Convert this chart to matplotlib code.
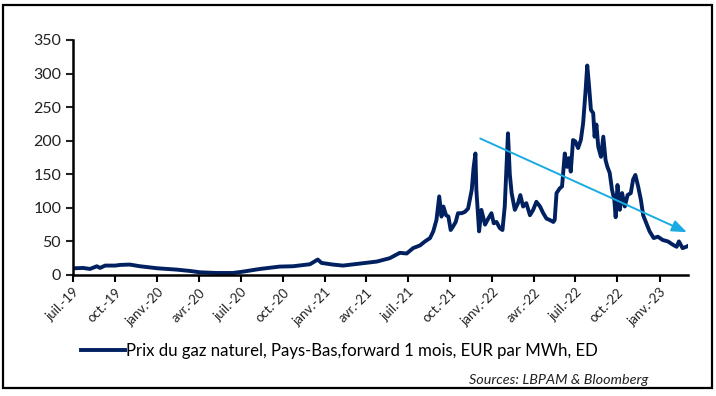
import matplotlib
matplotlib.use("Agg")
import matplotlib.pyplot as plt
import pandas as pd
from matplotlib.patches import Rectangle

plt.rcParams['font.family'] = ['Lato', 'DejaVu Sans']

# prix du gaz TTF, forward 1 mois (EUR/MWh)
dates = [
    "2019-07-01", "2019-07-05", "2019-07-23", "2019-08-07", "2019-08-22", "2019-08-29",
    "2019-09-09", "2019-10-01", "2019-10-12", "2019-11-02", "2019-11-24", "2020-01-01",
    "2020-02-12", "2020-03-12", "2020-04-03", "2020-05-09", "2020-06-14", "2020-07-06",
    "2020-08-12", "2020-09-24", "2020-10-23", "2020-11-29", "2020-12-16", "2020-12-24",
    "2021-01-18", "2021-02-09", "2021-03-18", "2021-04-24", "2021-05-22", "2021-06-13",
    "2021-06-28", "2021-07-12", "2021-07-27", "2021-08-07", "2021-08-18", "2021-08-25",
    "2021-09-01", "2021-09-07", "2021-09-12", "2021-09-16", "2021-09-22", "2021-09-27",
    "2021-10-02", "2021-10-07", "2021-10-13", "2021-10-18", "2021-10-26", "2021-11-02",
    "2021-11-09", "2021-11-17", "2021-11-21", "2021-11-25", "2021-11-27", "2021-12-03",
    "2021-12-08", "2021-12-16", "2021-12-23", "2021-12-30", "2022-01-04", "2022-01-10",
    "2022-01-17", "2022-01-23", "2022-01-28", "2022-02-04", "2022-02-08", "2022-02-12",
    "2022-02-19", "2022-02-26", "2022-03-03", "2022-03-09", "2022-03-16", "2022-03-24",
    "2022-03-31", "2022-04-07", "2022-04-15", "2022-04-22", "2022-04-29", "2022-05-06",
    "2022-05-14", "2022-05-17", "2022-05-21", "2022-05-28", "2022-06-02", "2022-06-08",
    "2022-06-13", "2022-06-17", "2022-06-21", "2022-06-26", "2022-07-01", "2022-07-07",
    "2022-07-13", "2022-07-18", "2022-07-23", "2022-07-27", "2022-07-31", "2022-08-04",
    "2022-08-09", "2022-08-12", "2022-08-16", "2022-08-20", "2022-08-26", "2022-08-31",
    "2022-09-05", "2022-09-09", "2022-09-14", "2022-09-19", "2022-09-24", "2022-09-27",
    "2022-10-01", "2022-10-06", "2022-10-11", "2022-10-17", "2022-10-23", "2022-10-30",
    "2022-11-04", "2022-11-09", "2022-11-15", "2022-11-21", "2022-11-26", "2022-12-03",
    "2022-12-10", "2022-12-19", "2022-12-28", "2023-01-08", "2023-01-19", "2023-01-30",
    "2023-02-07", "2023-02-12", "2023-02-20", "2023-02-28", "2023-03-03",
]
prix = [
    10, 10, 10.5, 9, 13, 10.5,
    14, 14, 15, 15.5, 13, 10,
    8, 6, 4, 3, 3, 5,
    9, 12.5, 13, 16, 23, 18,
    15.5, 14, 17, 20, 25, 33,
    32, 40, 44, 50, 55, 65,
    82, 117, 87, 102, 89, 87,
    67, 72, 79, 92, 92, 94,
    99, 127, 160, 181, 127, 65,
    97, 75, 84, 92, 77, 79,
    70, 67, 102, 211, 150, 122,
    97, 107, 119, 102, 107, 89,
    97, 109, 102, 92, 84, 82,
    79, 82, 122, 129, 132, 181,
    161, 174, 154, 201, 199, 189,
    201, 226, 271, 312, 281, 246,
    241, 206, 224, 191, 176, 206,
    171, 161, 152, 127, 112, 86,
    134, 97, 122, 102, 119, 122,
    142, 149, 132, 112, 89, 77,
    65, 55, 57, 52, 50, 45,
    42, 50, 40, 42, 43,
]
tendance_dates = ["2021-11-30", "2023-03-07"]
tendance_vals = [205, 62]

ticks = pd.date_range("2019-07-01", "2023-01-01", freq="QS")
mois = {1: "janv.", 4: "avr.", 7: "juil.", 10: "oct."}
tick_labels = [f"{mois[d.month]}-{d.strftime('%y')}" for d in ticks]

x = pd.to_datetime(dates)

fig = plt.figure(figsize=(7.16, 3.96), dpi=100)
ax = fig.add_axes([0.102, 0.3056, 0.859, 0.5934])

ax.plot(x, prix, color="#002060", lw=2.8, solid_joinstyle="round",
        label="Prix du gaz naturel, Pays-Bas,forward 1 mois, EUR par MWh, ED")

t = pd.to_datetime(tendance_dates)
ax.annotate("", xy=(t[1], tendance_vals[1]), xytext=(t[0], tendance_vals[0]),
            arrowprops=dict(arrowstyle="-|>,head_length=0.9,head_width=0.35",
                            color="#1aabe3", lw=1.4),
            annotation_clip=False)

ax.set_xlim(pd.Timestamp("2019-07-01"), pd.Timestamp("2023-03-04"))
ax.set_ylim(0, 350)
ax.set_yticks(range(0, 351, 50))
ax.set_xticks(ticks)
ax.set_xticklabels(tick_labels, rotation=45, ha="right", rotation_mode="anchor",
                   fontsize=9.5, color="#222222")
ax.tick_params(axis="y", labelsize=11.5, colors="#222222", length=5, width=1.5)
ax.tick_params(axis="x", length=5, width=1.5, pad=3)

for s in ["top", "right"]:
    ax.spines[s].set_visible(False)
for s in ["left", "bottom"]:
    ax.spines[s].set_linewidth(1.8)
    ax.spines[s].set_color("black")

leg = ax.legend(loc="center left", bbox_to_anchor=(0.002, -0.325), frameon=False,
                fontsize=12.1, handlelength=2.6, handletextpad=0.1, borderaxespad=0)

fig.text(0.905, 0.04, "Sources: LBPAM & Bloomberg", ha="right", va="center",
         fontsize=10.4, style="italic", color="#222222")

fig.patches.append(Rectangle((0.0042, 0.0202), 0.9902, 0.9668, transform=fig.transFigure,
                             fill=False, edgecolor="black", lw=1.6))

fig.savefig("out.png", dpi=100)
